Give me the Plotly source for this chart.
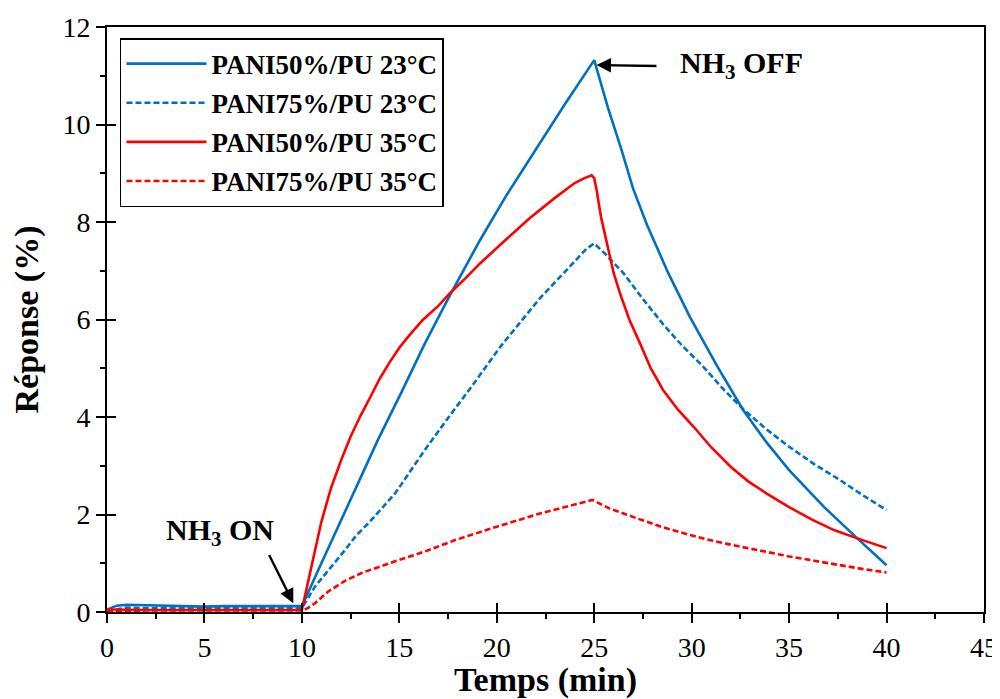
import plotly.graph_objects as go

# ---- data ----
t_b50 = [0, 0.5, 1, 2, 3, 4, 5, 6, 7, 8, 9, 10,
         11, 12, 12.5, 13.9, 15.1, 16.3, 17.6, 19.1, 20.5, 22, 23.5, 25,
         25.7, 26.4, 27.0, 27.7, 28.8, 29.9, 31.3, 32.65, 33.8, 35, 36.8, 38.5, 40]
v_b50 = [0.05, 0.13, 0.15, 0.14, 0.12, 0.11, 0.11, 0.12, 0.12, 0.12, 0.12, 0.12,
         1.0, 1.87, 2.3, 3.53, 4.5, 5.5, 6.5, 7.6, 8.55, 9.48, 10.42, 11.32,
         10.35, 9.48, 8.68, 7.95, 6.95, 6.06, 5.05, 4.14, 3.5, 2.91, 2.15, 1.51, 0.96]

t_b75 = [0, 1, 2, 3, 4, 5, 6, 7, 8, 9, 10,
         10.67, 11.53, 12.21, 12.81, 13.41, 14.78, 16.3, 17.5, 18.7, 20.2, 22.2, 23.9, 24.6, 25,
         25.6, 26.5, 27.5, 28.5, 29.5, 30.6, 31.6, 32.65, 33.8, 35, 36.3, 37.6, 38.8, 40]
v_b75 = [0.02, 0.09, 0.08, 0.08, 0.07, 0.07, 0.08, 0.08, 0.08, 0.08, 0.08,
         0.52, 0.93, 1.27, 1.58, 1.82, 2.43, 3.32, 3.98, 4.62, 5.45, 6.43, 7.15, 7.45, 7.56,
         7.33, 6.95, 6.42, 5.92, 5.47, 5.03, 4.58, 4.16, 3.76, 3.39, 3.03, 2.71, 2.39, 2.09]

t_r50 = [0, 1, 2, 3, 4, 5, 6, 7, 8, 9, 10,
         10.5, 11, 11.5, 12, 12.5, 13, 13.5, 14, 14.5, 15, 15.5, 16.2, 17, 17.6, 18.4, 19.14,
         20.42, 21.7, 23.0, 24.0, 24.5, 24.87,
         25.0, 25.12, 25.35, 25.64, 26.0, 26.32, 26.8, 27.35, 27.9, 28.54, 29.3, 30.1, 31.0,
         32.0, 32.9, 33.85, 35, 36.2, 37.3, 38.5, 40]
v_r50 = [0.05, 0.04, 0.04, 0.04, 0.04, 0.04, 0.04, 0.04, 0.04, 0.04, 0.04,
         0.95, 1.85, 2.55, 3.1, 3.6, 4.02, 4.4, 4.79, 5.12, 5.42, 5.67, 5.99, 6.28, 6.54, 6.85, 7.15,
         7.62, 8.08, 8.5, 8.8, 8.9, 8.96,
         8.9, 8.66, 8.1, 7.56, 6.95, 6.54, 6.0, 5.51, 5.0, 4.55, 4.15, 3.8, 3.38,
         2.98, 2.68, 2.43, 2.15, 1.89, 1.68, 1.51, 1.31]

t_r75 = [0, 1, 2, 3, 4, 5, 6, 7, 8, 9, 10,
         10.3, 10.67, 11.35, 12.21, 13.06, 13.9, 14.78, 16.3, 17.9, 20, 22.2, 24.9,
         25.8, 27.2, 28.5, 29.9, 31.2, 32.5, 33.8, 35, 36.3, 37.6, 38.8, 40]
v_r75 = [0.02, 0.03, 0.03, 0.03, 0.03, 0.03, 0.03, 0.03, 0.03, 0.03, 0.03,
         0.08, 0.18, 0.42, 0.64, 0.8, 0.92, 1.04, 1.24, 1.48, 1.75, 2.02, 2.3,
         2.12, 1.92, 1.74, 1.58, 1.45, 1.34, 1.23, 1.14, 1.05, 0.96, 0.88, 0.81]

names = ["PANI50%/PU 23°C", "PANI75%/PU 23°C", "PANI50%/PU 35°C", "PANI75%/PU 35°C"]
colors = ["#0070C0", "#0070C0", "#FF0000", "#FF0000"]
dashes = ["solid", "6px,3px", "solid", "6px,3px"]

x_range = [0, 45]
y_range = [0, 12]
x_major, x_minor = 5, 2.5
y_major, y_minor = 2, 1

FONT = "Liberation Serif, Times New Roman, serif"

fig = go.Figure()
series = [(t_b50, v_b50), (t_b75, v_b75), (t_r50, v_r50), (t_r75, v_r75)]
for i, ((tx, vy), nm, c, d) in enumerate(zip(series, names, colors, dashes)):
    fig.add_trace(go.Scatter(x=tx, y=vy, mode="lines", name="<b>" + nm + "</b>",
                             legendgroup="g%d" % i,
                             line=dict(color=c, width=2.6, dash=d)))

axis_common = dict(showgrid=False, zeroline=False, showline=True, linecolor="black",
                   linewidth=2, mirror=True, ticks="outside", ticklen=9, tickwidth=2,
                   tickcolor="black", automargin=False, tickmode="linear", tick0=0,
                   tickfont=dict(family=FONT, size=28, color="black"))


def tick_overlay(rng, base, side, dtick, direction, length, width):
    return dict(range=rng, overlaying=base, anchor=("y" if base == "x" else "x"), side=side,
                tickmode="linear", tick0=0, dtick=dtick,
                ticks=direction, ticklen=length, tickwidth=width, tickcolor="black",
                automargin=False, showticklabels=False, showline=False, showgrid=False,
                zeroline=False)


# the page body has an 8px margin, so the figure is 992x691 drawn at (8,8)
fig.update_layout(
    width=992, height=691,
    margin=dict(l=99, r=16, t=19, b=87),
    paper_bgcolor="white", plot_bgcolor="white",
    xaxis=dict(range=x_range, dtick=x_major,
               title=dict(text="<b>Temps (min)</b>", font=dict(family=FONT, size=34, color="black"),
                          standoff=5),
               **axis_common),
    yaxis=dict(range=y_range, dtick=y_major,
               title=dict(text="<b>Réponse (%)</b>", font=dict(family=FONT, size=34, color="black"),
                          standoff=16),
               **axis_common),
    # major ticks crossing the axis (inside part)
    xaxis2=tick_overlay(x_range, "x", "bottom", x_major, "inside", 9, 2),
    yaxis2=tick_overlay(y_range, "y", "left", y_major, "inside", 9, 2),
    # minor ticks (outside only)
    xaxis3=tick_overlay(x_range, "x", "bottom", x_minor, "outside", 6, 1.5),
    yaxis3=tick_overlay(y_range, "y", "left", y_minor, "outside", 6, 1.5),
    legend=dict(x=0.0148, y=0.981, xanchor="left", yanchor="top",
                bgcolor="white", bordercolor="black", borderwidth=1.5,
                font=dict(family=FONT, size=27, color="black"),
                tracegroupgap=1, itemwidth=80),
    showlegend=True,
)

# invisible traces so the overlay tick axes render
for xa, ya in (("x2", "y2"), ("x3", "y3")):
    fig.add_trace(go.Scatter(x=[0], y=[0], xaxis=xa, yaxis=ya, mode="markers",
                             marker=dict(opacity=0), showlegend=False, hoverinfo="skip"))

# annotations
fig.add_annotation(x=25.12, y=11.22, ax=28.27, ay=11.2, xref="x", yref="y", axref="x", ayref="y",
                   text="", showarrow=True, arrowhead=2, arrowsize=1.2, arrowwidth=2.4,
                   arrowcolor="black")
fig.add_annotation(x=29.3, y=11.22, xref="x", yref="y", xanchor="left", yanchor="middle",
                   text="<b>NH<sub>3</sub> OFF</b>", showarrow=False,
                   font=dict(family=FONT, size=30, color="black"))
fig.add_annotation(x=9.56, y=0.18, ax=8.28, ay=1.2, xref="x", yref="y", axref="x", ayref="y",
                   text="", showarrow=True, arrowhead=2, arrowsize=1.2, arrowwidth=2.4,
                   arrowcolor="black")
fig.add_annotation(x=2.95, y=1.65, xref="x", yref="y", xanchor="left", yanchor="middle",
                   text="<b>NH<sub>3</sub> ON</b>", showarrow=False,
                   font=dict(family=FONT, size=30, color="black"))

fig.write_html("out.html")
